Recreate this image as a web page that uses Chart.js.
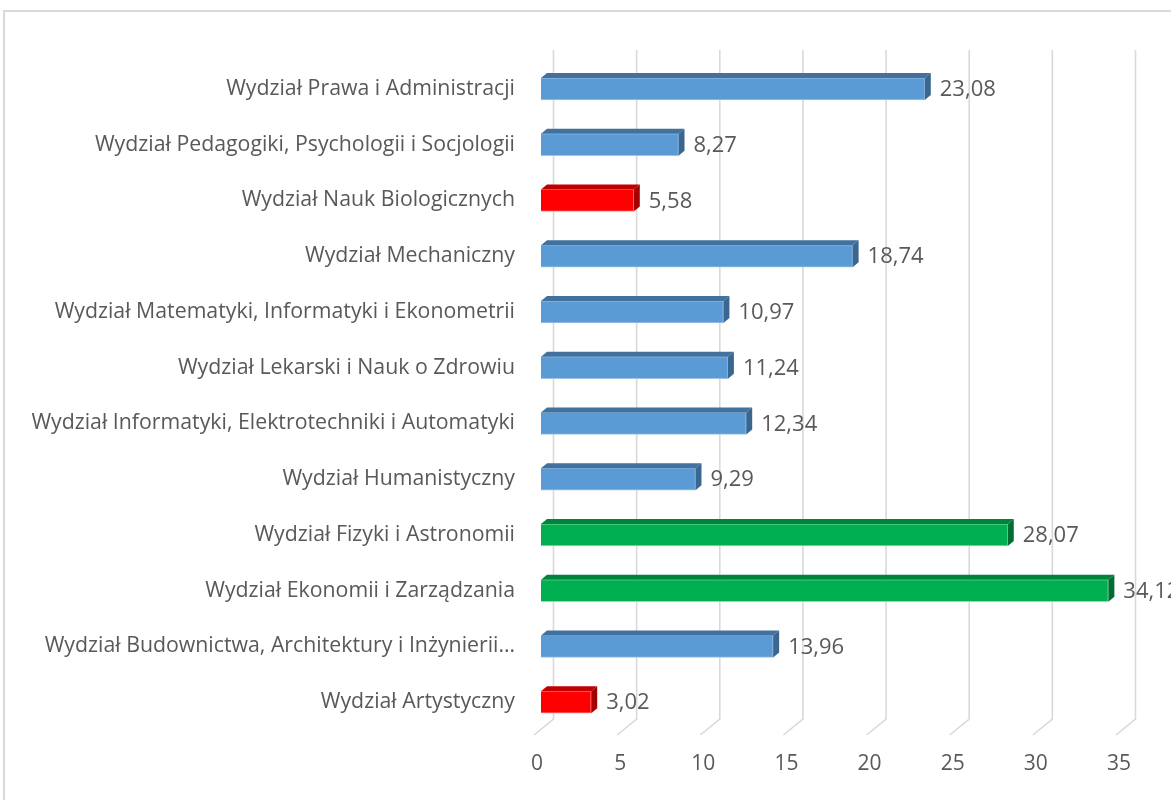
<!DOCTYPE html>
<html>
<head>
<meta charset="utf-8">
<script src="https://cdn.jsdelivr.net/npm/chart.js"></script>
<style>
  html, body { margin: 0; padding: 0; background: #fff; overflow: hidden; }
  #frame { position: absolute; left: 3px; top: 10px; width: 1200px; height: 820px; border: 2px solid #d9d9d9; }
  #wrap { position: absolute; left: 0; top: 0; width: 1171px; height: 800px; }
</style>
</head>
<body>
<div id="frame"></div>
<div id="wrap"><canvas id="chart"></canvas></div>
<script>
// faculties, top to bottom as in the picture
const faculties = [
    'Wydział Prawa i Administracji',
    'Wydział Pedagogiki, Psychologii i Socjologii',
    'Wydział Nauk Biologicznych',
    'Wydział Mechaniczny',
    'Wydział Matematyki, Informatyki i Ekonometrii',
    'Wydział Lekarski i Nauk o Zdrowiu',
    'Wydział Informatyki, Elektrotechniki i Automatyki',
    'Wydział Humanistyczny',
    'Wydział Fizyki i Astronomii',
    'Wydział Ekonomii i Zarządzania',
    'Wydział Budownictwa, Architektury i Inżynierii…',
    'Wydział Artystyczny'
]
const values = [23.08, 8.27, 5.58, 18.74, 10.97, 11.24, 12.34, 9.29, 28.07, 34.12, 13.96, 3.02]
const xTicks = [0, 5, 10, 15, 20, 25, 30, 35]

// colour group of every bar
const groups = ['b', 'b', 'r', 'b', 'b', 'b', 'b', 'b', 'g', 'g', 'b', 'r']
const palette = {
    b: {front: '#5b9bd5', top: '#41719c', side: '#3a6690', edge: '#9dc3e6'},
    r: {front: '#ff0000', top: '#c00000', side: '#a50000', edge: '#ff9999'},
    g: {front: '#00b050', top: '#00843c', side: '#006e32', edge: '#8fe0b0'}
}

const DX = 6, DY = -5
const FONT = '"Open Sans", sans-serif'
const TEXT = '#595959'

// back wall grid lines with the slanted floor lines
const gridPlugin = {
    id: 'grid3d',
    beforeDatasetsDraw(chart) {
        const {ctx, scales: {x}} = chart
        ctx.save()
        ctx.strokeStyle = '#d9d9d9'
        ctx.lineWidth = 1.6
        xTicks.forEach(v => {
            const px = x.getPixelForValue(v)
            ctx.beginPath()
            ctx.moveTo(px + 12.5, 50)
            ctx.lineTo(px + 12.5, 719)
            ctx.lineTo(px - 7, 735)
            ctx.stroke()
        })
        ctx.restore()
    }
}

// top and side faces of the bars plus value labels
const boxPlugin = {
    id: 'box3d',
    afterDatasetsDraw(chart) {
        const {ctx} = chart
        const meta = chart.getDatasetMeta(0)
        ctx.save()
        meta.data.forEach((bar, i) => {
            const c = palette[groups[i]]
            const {x, y, base, height} = bar.getProps(['x', 'y', 'base', 'height'], true)
            const top = y - height / 2, bottom = y + height / 2
            ctx.fillStyle = c.top
            ctx.beginPath()
            ctx.moveTo(base, top)
            ctx.lineTo(base + DX, top + DY)
            ctx.lineTo(x + DX, top + DY)
            ctx.lineTo(x, top)
            ctx.closePath()
            ctx.fill()
            ctx.fillStyle = c.side
            ctx.beginPath()
            ctx.moveTo(x, top)
            ctx.lineTo(x + DX, top + DY)
            ctx.lineTo(x + DX, bottom + DY)
            ctx.lineTo(x, bottom)
            ctx.closePath()
            ctx.fill()
            ctx.fillStyle = TEXT
            ctx.font = '22px ' + FONT
            ctx.textAlign = 'left'
            ctx.textBaseline = 'middle'
            ctx.fillText(values[i].toFixed(2).replace('.', ','), x + DX + 9, y + 1)
        })
        ctx.restore()
    }
}

new Chart(document.getElementById('chart'), {
    type: 'bar',
    data: {
        labels: faculties,
        datasets: [{
            data: values,
            backgroundColor: groups.map(g => palette[g].front),
            borderColor: groups.map(g => palette[g].edge),
            borderWidth: 1,
            barThickness: 22
        }]
    },
    options: {
        indexAxis: 'y',
        responsive: true,
        maintainAspectRatio: false,
        animation: false,
        layout: {padding: {top: 61, right: 48, left: 0, bottom: 0}},
        plugins: {legend: {display: false}, tooltip: {enabled: false}},
        scales: {
            x: {
                min: 0, max: 35,
                afterBuildTicks: s => { s.ticks = xTicks.map(v => ({value: v})) },
                afterFit: s => { s.height = 70 },
                grid: {display: false, drawTicks: false},
                border: {display: false},
                ticks: {color: TEXT, font: {family: FONT, size: 21}, padding: 21, labelOffset: -4}
            },
            y: {
                afterFit: s => { s.width = 541 },
                grid: {display: false, drawTicks: false},
                border: {display: false},
                ticks: {color: TEXT, font: {family: FONT, size: 21.3}, padding: 26, autoSkip: false}
            }
        }
    },
    plugins: [gridPlugin, boxPlugin]
})
</script>
</body>
</html>
